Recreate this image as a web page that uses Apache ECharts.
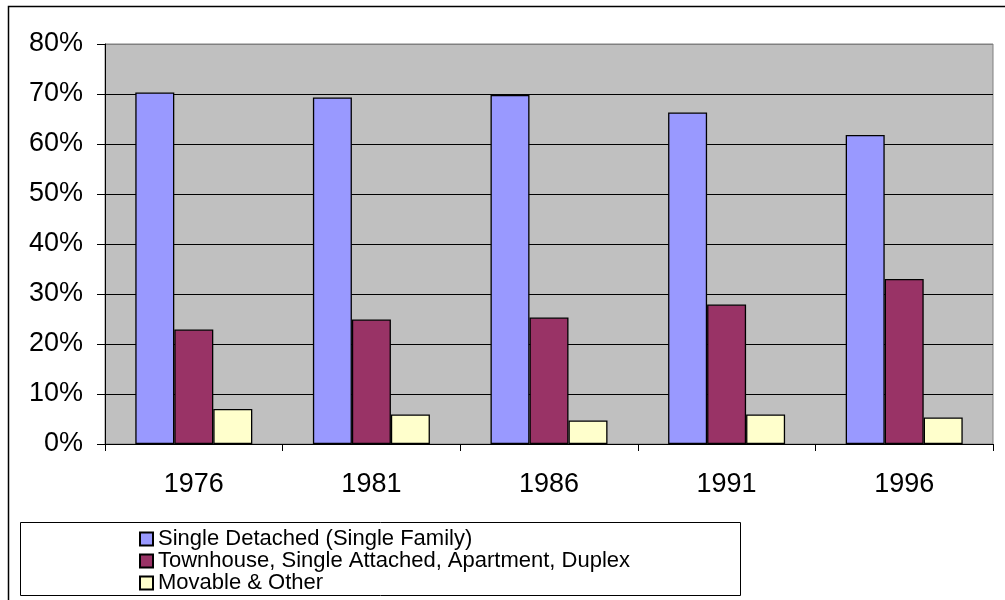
<!DOCTYPE html>
<html lang="en">
<head>
    <meta charset="UTF-8">
    <title>Dwelling types 1976-1996</title>
    <script src="https://cdn.jsdelivr.net/npm/echarts@6/dist/echarts.min.js"></script>
    <style>
        html, body { margin: 0; padding: 0; background: #fff; }
        #chart { width: 1005px; height: 600px; }
    </style>
</head>
<body>
    <div id="chart"></div>
    <script>
        // data (percent of dwellings)
        const years = ['1976', '1981', '1986', '1991', '1996'];
        const singleDetached = [70.3, 69.3, 69.8, 66.3, 61.8];
        const townhouse = [22.9, 24.9, 25.3, 27.9, 33.0];
        const movable = [7.0, 5.9, 4.7, 5.9, 5.3];
        const seriesNames = [
            'Single Detached (Single Family)',
            'Townhouse, Single Attached, Apartment, Duplex',
            'Movable & Other'
        ];

        const font = '"Liberation Sans", Arial, sans-serif';
        const chart = echarts.init(document.getElementById('chart'));

        function bar(name, data, color) {
            return {
                name: name,
                type: 'bar',
                data: data,
                barWidth: 39,
                barGap: '0%',
                itemStyle: { color: color, borderColor: '#000', borderWidth: 1.3 }
            };
        }

        const option = {
            animation: false,
            backgroundColor: '#fff',
            grid: {
                left: 105, top: 44, right: 12, bottom: 156,
                show: true, backgroundColor: '#C0C0C0',
                borderColor: '#808080', borderWidth: 1
            },
            graphic: [
                { type: 'rect', shape: { x: 8.5, y: 6.5, width: 1100, height: 700 },
                  style: { fill: 'none', stroke: '#000', lineWidth: 1.5 }, z: -1 },
                { type: 'rect', shape: { x: 20.5, y: 522.5, width: 720, height: 73 },
                  style: { fill: 'none', stroke: '#000', lineWidth: 1 } }
            ],
            legend: {
                orient: 'vertical',
                left: 139, top: 528,
                padding: 0,
                itemGap: 0,
                itemWidth: 13, itemHeight: 13,
                icon: 'rect',
                textStyle: { fontFamily: font, fontSize: 22, lineHeight: 21, color: '#000' },
                data: seriesNames
            },
            xAxis: {
                type: 'category',
                data: years,
                axisLine: { lineStyle: { color: '#000', width: 1 } },
                axisTick: { show: true, length: 7, lineStyle: { color: '#000' } },
                axisLabel: { fontFamily: font, fontSize: 27, color: '#000', margin: 27 },
                splitLine: { show: false }
            },
            yAxis: {
                type: 'value',
                min: 0, max: 80, interval: 10,
                axisLine: { show: true, lineStyle: { color: '#000', width: 1 } },
                axisTick: { show: true, length: 8, lineStyle: { color: '#000' } },
                axisLabel: { fontFamily: font, fontSize: 27, color: '#000', margin: 22,
                    formatter: '{value}%' },
                splitLine: { lineStyle: { color: ['#000', '#000', '#000', '#000', '#000',
                    '#000', '#000', '#000', '#808080'], width: 1 } }
            },
            series: [
                bar(seriesNames[0], singleDetached, '#9999FF'),
                bar(seriesNames[1], townhouse, '#993366'),
                bar(seriesNames[2], movable, '#FFFFCC')
            ]
        };
        chart.setOption(option);
    </script>
</body>
</html>
